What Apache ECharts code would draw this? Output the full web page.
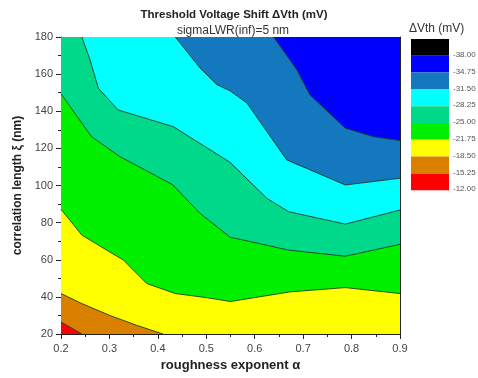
<!DOCTYPE html>
<html><head><meta charset="utf-8">
<script src="https://cdn.jsdelivr.net/npm/echarts@6/dist/echarts.min.js"></script>
<style>html,body{margin:0;padding:0;background:#fff}#c{width:478px;height:378px}</style>
</head><body><div id="c"></div>
<script>
// tick values
const xTicks = [0.2, 0.3, 0.4, 0.5, 0.6, 0.7, 0.8, 0.9];
const yTicks = [20, 40, 60, 80, 100, 120, 140, 160, 180];
// contour levels (mV) for the colour bar, top to bottom
const levels = [-38.00, -34.75, -31.50, -28.25, -25.00, -21.75, -18.50, -15.25, -12.00];
// contour boundary lines [alpha, xi]
const b1525 = [[0.2,26.5],[0.243,20]];
const b1850 = [[0.2,41.8],[0.243,36.4],[0.3,30.1],[0.356,24.7],[0.411,20]];
const b2175 = [[0.2,87.2],[0.243,73.3],[0.3,64.3],[0.329,59.8],[0.377,47.2],[0.436,41.8],[0.5,39.6],[0.55,37.5],[0.673,42.7],[0.787,45],[0.9,41.8]];
const b2500 = [[0.2,149.4],[0.263,126.3],[0.322,115.5],[0.43,100.5],[0.487,85],[0.55,72],[0.57,71],[0.67,65.2],[0.787,61.9],[0.9,68.3]];
const b2825 = [[0.243,180],[0.26,167.7],[0.277,152.4],[0.318,140.7],[0.432,131.7],[0.549,112.5],[0.625,93.1],[0.67,85.9],[0.787,79.2],[0.9,86.8]];
const b3150 = [[0.436,180],[0.487,163.3],[0.522,154.3],[0.549,151],[0.584,144.4],[0.666,113.8],[0.787,100.3],[0.9,103.9]];
const b3475 = [[0.639,180],[0.687,162.3],[0.714,148.8],[0.787,130.9],[0.845,126.3],[0.9,124.2]];
const boundaries = [b1525, b1850, b2175, b2500, b2825, b3150, b3475];
// colours: legend order top->bottom
const legendColors = ['#000000','#0000FF','#1478BE','#00FFFF','#00D98A','#00F000','#FFFF00','#D98000','#FF0000'];

const xmin = Math.min(...xTicks), xmax = Math.max(...xTicks);
const ymin = Math.min(...yTicks), ymax = Math.max(...yTicks);

// regions: base (red) then above each boundary
const regionColors = ['#FF0000','#D98000','#FFFF00','#00F000','#00D98A','#00FFFF','#1478BE','#0000FF'];
function regionPoly(i){
  if(i===0) return [[xmin,ymin],[xmax,ymin],[xmax,ymax],[xmin,ymax]];
  const b = boundaries[i-1];
  const pts = b.slice();
  const end = b[b.length-1], start = b[0];
  if(end[1] <= ymin + 1e-9) pts.push([xmax,ymin]);
  pts.push([xmax,ymax]);
  if(start[0] <= xmin + 1e-9) pts.push([xmin,ymax]);
  return pts;
}

const chart = echarts.init(document.getElementById('c'), null, {renderer:'canvas'});
const series = [{
  type:'custom',
  data: regionColors.map((c,i)=>[i]),
  encode:{x:-1,y:-1},
  silent:true,
  z:1,
  renderItem: function(params, api){
    const i = params.dataIndex;
    const pts = regionPoly(i).map(p=>api.coord(p));
    return {type:'polygon', shape:{points:pts}, style:{fill:regionColors[i], stroke:null}};
  }
}];
boundaries.forEach(b=>{
  series.push({type:'line', data:b, showSymbol:false, symbol:'none', silent:true, z:3,
    lineStyle:{color:'#1f3f25', width:0.9}, animation:false});
});

const graphic = [];
const bx = 411, bw = 38, by = 39, bh = 16.8;
legendColors.forEach((c,i)=>{
  graphic.push({type:'rect', left:bx, top:by+i*bh, shape:{width:bw,height:bh}, style:{fill:c}, silent:true});
});
levels.forEach((v,i)=>{
  graphic.push({type:'text', left:453, top:by+(i+1)*bh-5, style:{text:v.toFixed(2), font:'8px "Liberation Sans", Arial', fill:'#555'}});
});
graphic.push({type:'text', left:409, top:23, style:{text:'ΔVth (mV)', font:'12px "Liberation Sans", Arial', fill:'#333'}});

chart.setOption({
  animation:false,
  backgroundColor:'#fff',
  title:[
    {text:'Threshold Voltage Shift ΔVth (mV)', left:229, top:4, textAlign:'center',
     textStyle:{fontFamily:'Liberation Sans', fontSize:11.5, fontWeight:'bold', color:'#222'}},
    {text:'sigmaLWR(inf)=5 nm', left:228, top:20, textAlign:'center',
     textStyle:{fontFamily:'Liberation Sans', fontSize:12, fontWeight:'normal', color:'#333'}}
  ],
  grid:{left:61, right:78, top:37, bottom:44},
  xAxis:[{type:'value', min:xmin, max:xmax, interval:0.1, position:'bottom',
    name:'roughness exponent α', nameLocation:'middle', nameGap:25,
    nameTextStyle:{fontFamily:'Liberation Sans', fontSize:13, fontWeight:'bold', color:'#222'},
    axisLine:{show:true, lineStyle:{color:'#222', width:1}},
    axisTick:{show:true, inside:false, length:5, lineStyle:{color:'#222'}},
    minorTick:{show:true, splitNumber:2, length:3, lineStyle:{color:'#222'}},
    axisLabel:{formatter:v=>v.toFixed(1), fontFamily:'Liberation Sans', fontSize:11, color:'#444', margin:9},
    splitLine:{show:false}},
   {type:'value', min:xmin, max:xmax, position:'top', axisLine:{show:true, lineStyle:{color:'#222'}},
    axisTick:{show:false}, axisLabel:{show:false}, splitLine:{show:false}}],
  yAxis:[{type:'value', min:ymin, max:ymax, interval:20, position:'left',
    name:'correlation length ξ (nm)', nameLocation:'middle', nameGap:28, nameRotate:90,
    nameTextStyle:{fontFamily:'Liberation Sans', fontSize:12, fontWeight:'bold', color:'#222'},
    axisLine:{show:true, lineStyle:{color:'#222', width:1}},
    axisTick:{show:true, inside:false, length:5, lineStyle:{color:'#222'}},
    minorTick:{show:true, splitNumber:2, length:3, lineStyle:{color:'#222'}},
    axisLabel:{fontFamily:'Liberation Sans', fontSize:11, color:'#444', margin:8},
    splitLine:{show:false}},
   {type:'value', min:ymin, max:ymax, position:'right', axisLine:{show:true, lineStyle:{color:'#222'}},
    axisTick:{show:false}, axisLabel:{show:false}, splitLine:{show:false}}],
  series: series,
  graphic: graphic
});
</script></body></html>
